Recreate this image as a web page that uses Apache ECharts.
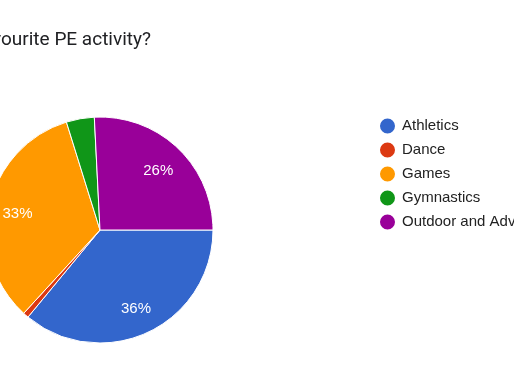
<!DOCTYPE html>
<html>
<head>
<meta charset="utf-8">
<script src="https://cdn.jsdelivr.net/npm/echarts@6/dist/echarts.min.js"></script>
<style>html,body{margin:0;padding:0;background:#fff;}#c{width:514px;height:386px;}</style>
</head>
<body>
<div id="c"></div>
<script>
const titleText = "What is your favourite PE activity?";
const categories = ["Athletics", "Dance", "Games", "Gymnastics", "Outdoor and Adventurous Activities"];
const values = [36, 0.8, 33.4, 4, 25.8];
const colors = ["#3366cc", "#dc3912", "#ff9900", "#109618", "#990099"];

const chart = echarts.init(document.getElementById('c'));
const data = categories.map((n, i) => ({ name: n, value: values[i] }));
chart.setOption({
  animation: false,
  color: colors,
  title: {
    text: titleText,
    right: 363,
    top: 31,
    padding: 0,
    textStyle: { fontFamily: 'Roboto', fontSize: 19, fontWeight: 'normal', color: '#202124' }
  },
  legend: {
    orient: 'vertical',
    left: 378,
    top: 116.5,
    padding: 0,
    icon: 'circle',
    itemWidth: 17,
    itemHeight: 17,
    itemGap: 5,
    data: categories,
    textStyle: { fontFamily: 'Arial', fontSize: 15, color: '#222222', padding: [0, 0, 0, 1], lineHeight: 17 }
  },
  series: [
    {
      type: 'pie',
      center: [100, 230],
      radius: [0, 113],
      startAngle: 0,
      clockwise: true,
      data: data,
      label: { show: false },
      labelLine: { show: false },
      itemStyle: { borderColor: '#ffffff', borderWidth: 1 },
      emphasis: { disabled: true }
    },
    {
      type: 'pie',
      center: [100, 230],
      radius: [50, 113],
      startAngle: 0,
      clockwise: true,
      silent: true,
      data: data,
      itemStyle: { color: 'rgba(0,0,0,0)' },
      label: {
        show: true,
        position: 'inside',
        color: '#ffffff',
        fontFamily: 'Arial',
        fontSize: 15,
        offset: [0, 2],
        formatter: p => p.percent >= 5 ? Math.round(p.percent) + '%' : ''
      },
      labelLine: { show: false },
      emphasis: { disabled: true }
    }
  ]
});
</script>
</body>
</html>
